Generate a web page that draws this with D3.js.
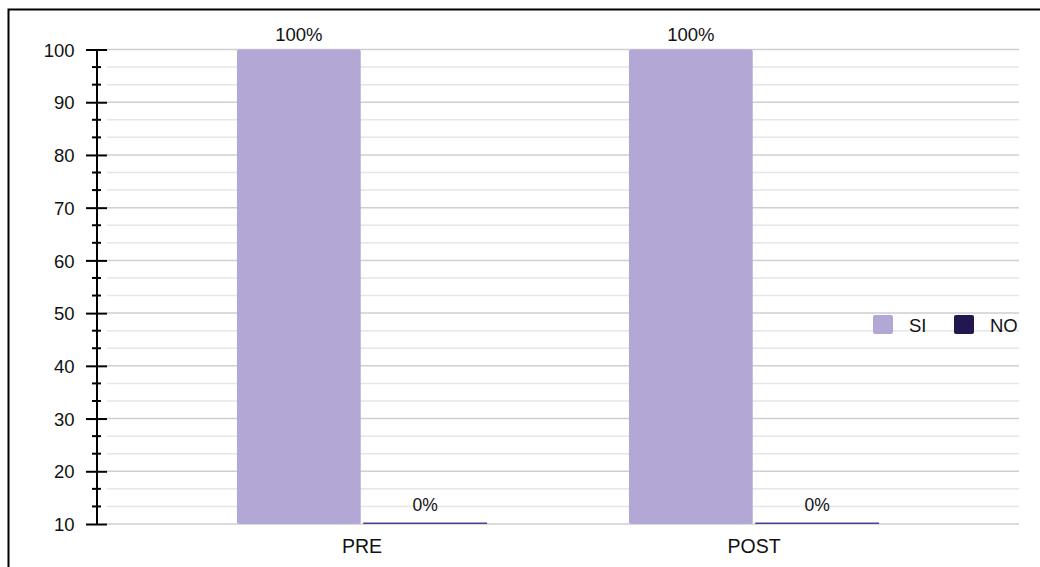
<!DOCTYPE html>
<html>
<head>
<meta charset="utf-8">
<script src="https://cdn.jsdelivr.net/npm/d3@7"></script>
<style>
  html, body { margin: 0; padding: 0; background: #fff; }
  svg { display: block; font-family: Arial, "Liberation Sans", Helvetica, sans-serif; }
</style>
</head>
<body>
<svg id="chart" width="1040" height="567"></svg>
<script>
// Survey answers before and after, as percentages
const categories = ["PRE", "POST"];
const seriesNames = ["SI", "NO"];
const siValues = [100, 100];
const noValues = [0, 0];
const yTickValues = [10, 20, 30, 40, 50, 60, 70, 80, 90, 100];
const minorPerStep = 3;

const colors = { SI: "#b3a7d6", NO: "#22184f" };

const svg = d3.select("#chart");
const W = 1040, H = 567;

// outer frame (open on the right and bottom)
svg.append("rect")
  .attr("x", 8.5).attr("y", 9.5)
  .attr("width", W + 20).attr("height", H + 20)
  .attr("fill", "none").attr("stroke", "#000").attr("stroke-width", 2);

const plotLeft = 107, plotRight = 1019;
const axisX = 97;

const y = d3.scaleLinear().domain([10, 100]).range([524, 49.5]).clamp(true);

const x0 = d3.scaleBand().domain(categories).range([166, 950])
  .paddingInner(0.362).paddingOuter(0.181);
const x1 = d3.scaleBand().domain(seriesNames).range([0, x0.bandwidth()])
  .paddingInner(0.02).paddingOuter(0);

// minor subdivisions between the labelled ticks
const minorTicks = [];
for (let i = 0; i < yTickValues.length - 1; i++) {
  const a = yTickValues[i], b = yTickValues[i + 1];
  for (let k = 1; k < minorPerStep; k++) minorTicks.push(a + (b - a) * k / minorPerStep);
}

// grid lines
const grid = svg.append("g");
grid.selectAll("line.minor").data(minorTicks).join("line")
  .attr("class", "minor")
  .attr("x1", plotLeft).attr("x2", plotRight)
  .attr("y1", d => y(d)).attr("y2", d => y(d))
  .attr("stroke", "#e6e6e6").attr("stroke-width", 1.5);
grid.selectAll("line.major").data(yTickValues).join("line")
  .attr("class", "major")
  .attr("x1", plotLeft).attr("x2", plotRight)
  .attr("y1", d => y(d)).attr("y2", d => y(d))
  .attr("stroke", "#cfcfcf").attr("stroke-width", 1.5);

// y axis with long major ticks and short minor ticks
const yAxisMajor = d3.axisLeft(y).tickValues(yTickValues).tickSizeInner(0).tickSizeOuter(0).tickPadding(0);
const ga = svg.append("g").attr("transform", `translate(${axisX},0)`).call(yAxisMajor);
ga.select(".domain").remove();
ga.selectAll(".tick text")
  .attr("x", -22.5).attr("dy", "0.36em")
  .attr("font-size", 18.5).attr("fill", "#111")
  .attr("font-family", "Arial, 'Liberation Sans', Helvetica, sans-serif");
ga.selectAll(".tick").append("line")
  .attr("x1", -11).attr("x2", 10).attr("stroke", "#000").attr("stroke-width", 2);
ga.selectAll("line.minorTick").data(minorTicks).join("line")
  .attr("class", "minorTick")
  .attr("x1", -5).attr("x2", 4)
  .attr("y1", d => y(d)).attr("y2", d => y(d))
  .attr("stroke", "#000").attr("stroke-width", 2);
ga.append("line")
  .attr("x1", 0).attr("x2", 0).attr("y1", y(100)).attr("y2", y(10))
  .attr("stroke", "#000").attr("stroke-width", 2);

// bars
const rows = categories.map((c, i) => ({ cat: c, SI: siValues[i], NO: noValues[i] }));
const groups = svg.append("g").selectAll("g").data(rows).join("g")
  .attr("transform", d => `translate(${x0(d.cat)},0)`);

groups.selectAll("rect").data(d => seriesNames.map(s => ({ s, v: d[s] }))).join("rect")
  .attr("x", d => x1(d.s))
  .attr("width", x1.bandwidth())
  .attr("y", d => Math.min(y(d.v), y(10) - 1.5))
  .attr("height", d => Math.max(y(10) - y(d.v), 1.5))
  .attr("rx", d => d.v > 10 ? 2 : 0)
  .attr("fill", d => d.v > 10 ? colors[d.s] : "#4a4390");

// value labels
groups.selectAll("text").data(d => seriesNames.map(s => ({ s, v: d[s] }))).join("text")
  .attr("x", d => x1(d.s) + x1.bandwidth() / 2)
  .attr("y", d => y(d.v) - (d.v > 10 ? 9 : 13))
  .attr("text-anchor", "middle")
  .attr("font-size", d => d.v > 10 ? 18.5 : 17.5)
  .attr("fill", "#111")
  .text(d => d.v + "%");

// category labels
svg.append("g").selectAll("text").data(categories).join("text")
  .attr("x", d => x0(d) + x0.bandwidth() / 2)
  .attr("y", 553)
  .attr("text-anchor", "middle")
  .attr("font-size", 19.5)
  .attr("fill", "#111")
  .text(d => d);

// legend
const legendItems = [
  { name: "SI", x: 873 },
  { name: "NO", x: 954 }
];
const lg = svg.append("g").selectAll("g").data(legendItems).join("g")
  .attr("transform", d => `translate(${d.x},315)`);
lg.append("rect")
  .attr("width", 20).attr("height", 19).attr("rx", 2)
  .attr("fill", d => colors[d.name]);
lg.append("text")
  .attr("x", 36).attr("y", 16.5)
  .attr("font-size", 18.5).attr("fill", "#111")
  .text(d => d.name);
</script>
</body>
</html>
